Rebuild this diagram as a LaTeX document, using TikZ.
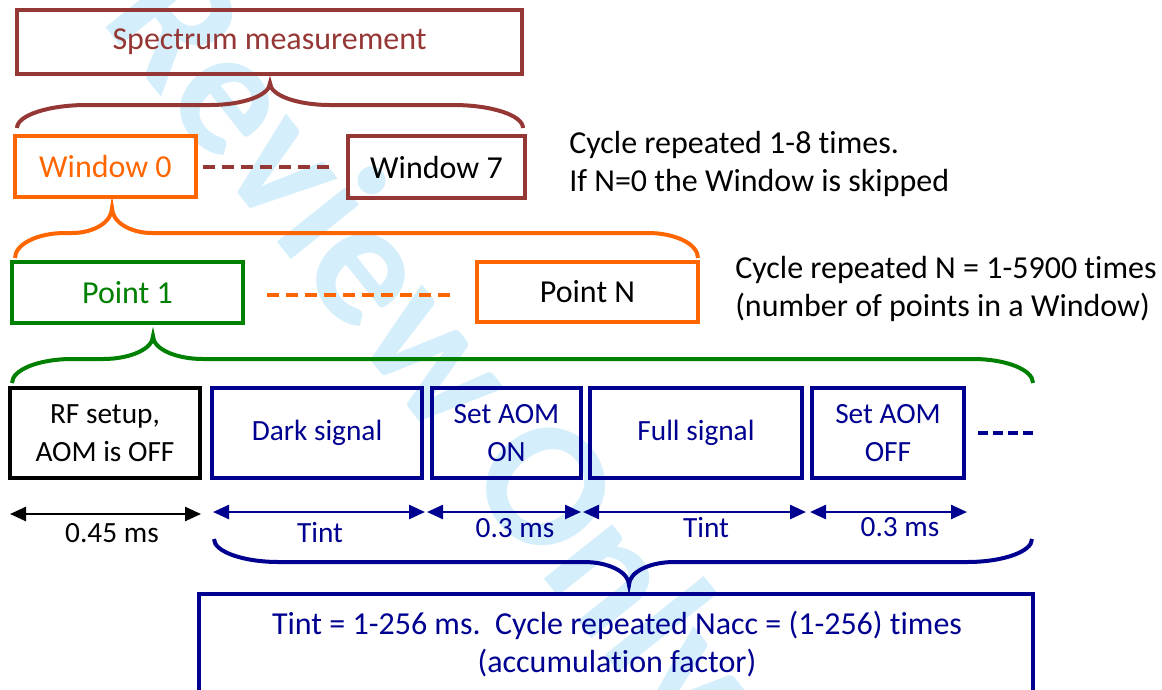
\documentclass[tikz,border=0pt]{standalone}
\usepackage{fontspec}
\setmainfont{Carlito}[Ligatures={NoCommon}]
\usetikzlibrary{arrows.meta,calc}
\newdimen\px \px=0.75pt
\definecolor{brn}{HTML}{953735}
\definecolor{org}{HTML}{FF6600}
\definecolor{grn}{HTML}{008000}
\definecolor{nvy}{HTML}{000090}
\definecolor{wmark}{RGB}{212,238,251}
% horizontal curly brace: style, x-left, x-right, x-tip, y-ends, y-middle, y-tip, end radius, tip radius
\newcommand\hbrace[9]{%
  \draw[#1] (#2,#5) .. controls (#2,{#5+0.552*(#6-#5)}) and ({#2+0.448*#8},#6) .. ({#2+#8},#6)
    -- ({#4-#9},#6) .. controls ({#4-0.448*#9},#6) and (#4,{#7+0.552*(#6-#7)}) .. (#4,#7)
    .. controls (#4,{#7+0.552*(#6-#7)}) and ({#4+0.448*#9},#6) .. ({#4+#9},#6)
    -- ({#3-#8},#6) .. controls ({#3-0.448*#8},#6) and (#3,{#5+0.552*(#6-#5)}) .. (#3,#5);}
\begin{document}
\begin{tikzpicture}[x=0.75pt,y=-0.75pt,
  box/.style={draw, line width=4\px, inner sep=0pt, align=center},
  big/.style={font=\fontsize{24}{28.5}\selectfont},
  small/.style={font=\fontsize{22}{28.5}\selectfont},
  dimarrow/.style={line width=2.5\px, {Triangle[length=12pt,width=10.5pt]}-{Triangle[length=12pt,width=10.5pt]}},
  bracestyle/.style={line width=4\px},
  dashline/.style={line width=4\px, dash pattern=on 12\px off 7\px},
]
\useasboundingbox (0,0) rectangle (1162,689);
\clip (0,0) rectangle (1162,689);

% background stamp
\node[text=wmark, rotate=-51.5, inner sep=0pt, font=\fontsize{135}{135}\bfseries\selectfont] (stamp) at (340,243) {For Review Only};

% top level: spectrum and windows
\node[box, big, draw=brn, text=brn, minimum width=505\px, minimum height=64\px] (spec) at (269.5,42) {Spectrum measurement};
\hbrace{bracestyle, brn}{17}{523}{270}{128}{105}{83}{70}{60}
\node[box, big, draw=org, text=org, minimum width=181\px, minimum height=61\px] (win0) at (105.5,166.5) {Window 0};
\node[box, big, draw=brn, text=black, minimum width=177\px, minimum height=62\px] (win7) at (436.5,167) {Window 7};
\draw[dashline, brn] ($(win0.east)+(5,0.5)$) -- ($(win7.west)+(-13,0)$);
\node[big, anchor=west, align=left, inner sep=0pt] (wintxt) at (569,164) {Cycle repeated 1-8 times.\\If N=0 the Window is skipped};

% points inside a window
\hbrace{bracestyle, org}{15}{698}{112}{258}{233}{208}{50}{40}
\node[box, big, draw=grn, text=grn, minimum width=231\px, minimum height=61\px] (pt1) at (127.5,292.5) {Point 1};
\node[box, big, draw=org, text=black, minimum width=221\px, minimum height=60\px] (ptN) at (587.5,292) {Point N};
\draw[dashline, org] ($(pt1.east)+(22,2.5)$) -- ($(ptN.west)+(-22,3)$);
\node[big, anchor=west, align=left, inner sep=0pt] (pttxt) at (735,289) {Cycle repeated N = 1-5900 times\\(number of points in a Window)};

% steps of one point
\hbrace{bracestyle, grn}{12}{1033}{153}{383}{359}{336}{60}{50}
\node[box, small, draw=black, text=black, minimum width=190\px, minimum height=90\px] (rf) at (105,433) {RF setup,\\AOM is OFF};
\node[box, small, draw=nvy, text=nvy, minimum width=210\px, minimum height=90\px] (dark) at (317,433) {Dark signal};
\node[box, small, draw=nvy, text=nvy, minimum width=149\px, minimum height=90\px] (seton) at (506.5,433) {Set AOM\\ON};
\node[box, small, draw=nvy, text=nvy, minimum width=212\px, minimum height=90\px] (full) at (696,433) {Full signal};
\node[box, small, draw=nvy, text=nvy, minimum width=152\px, minimum height=90\px] (setoff) at (888,433) {Set AOM\\OFF};
\draw[nvy, line width=4\px, dash pattern=on 10\px off 5\px] ($(setoff.east)+(12,0)$) -- ++(56,0);

% durations
\coordinate (a0) at (10,514);  \coordinate (a1) at (201,514);
\coordinate (b0) at (213,512); \coordinate (b1) at (425,512);
\coordinate (c0) at (427,512); \coordinate (c1) at (581,512);
\coordinate (d0) at (583,512); \coordinate (d1) at (806,512);
\coordinate (e0) at (810,512); \coordinate (e1) at (967,512);
\draw[dimarrow, black] (a0) -- (a1);
\draw[dimarrow, nvy] (b0) -- (b1);
\draw[dimarrow, nvy] (c0) -- (c1);
\draw[dimarrow, nvy] (d0) -- (d1);
\draw[dimarrow, nvy] (e0) -- (e1);
\node[small, text=black] (la) at (112,533) {0.45 ms};
\node[small, text=nvy] (lb) at (320,533) {Tint};
\node[small, text=nvy] (lc) at (515,528) {0.3 ms};
\node[small, text=nvy] (ld) at (706,528) {Tint};
\node[small, text=nvy] (le) at (900,527) {0.3 ms};

% accumulation loop
\hbrace{bracestyle, nvy}{214}{1032}{629}{539}{562}{585}{65}{45}
\node[box, draw=nvy, minimum width=834\px, minimum height=126\px] (acc) at (616,657) {};
\node[big, text=nvy, align=center, inner sep=0pt] (acctxt) at (617,644) {Tint = 1-256 ms.\ \ Cycle repeated Nacc = (1-256) times\\(accumulation factor)};
\end{tikzpicture}
\end{document}
